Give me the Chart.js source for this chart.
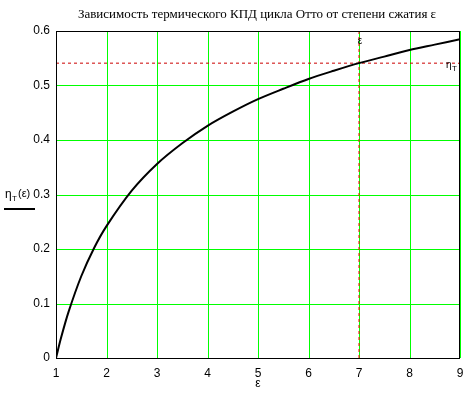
<!DOCTYPE html>
<html><head><meta charset="utf-8">
<script src="https://cdn.jsdelivr.net/npm/chart.js@4/dist/chart.umd.min.js"></script>
<style>html,body{margin:0;padding:0;background:#fff}#c{display:block}</style>
</head><body>
<canvas id="c" width="473" height="398"></canvas>
<script>
const titleText = "Зависимость термического КПД цикла Отто от степени сжатия ε";
const epsValues = [1, 1.1, 1.25, 1.5, 1.75, 2, 2.5, 3, 3.5, 4, 4.5, 5, 5.5, 6, 6.5, 7, 7.5, 8, 8.5, 9];
const etaValues = [0, 0.037, 0.085, 0.150, 0.201, 0.242, 0.307, 0.356, 0.394, 0.426, 0.452, 0.475, 0.494, 0.512, 0.527, 0.541, 0.553, 0.565, 0.575, 0.585];
const epsMarker = 7;
const etaMarker = 0.541;
const xTicks = [1, 2, 3, 4, 5, 6, 7, 8, 9];
const yTicks = [0, 0.1, 0.2, 0.3, 0.4, 0.5, 0.6];

const curve = epsValues.map((e, i) => ({x: e, y: etaValues[i]}));

const gridPlugin = {
  id: 'gridPlugin',
  beforeDatasetsDraw(chart) {
    const ctx = chart.ctx, a = chart.chartArea;
    const xs = chart.scales.x, ys = chart.scales.y;
    ctx.save();
    ctx.strokeStyle = '#00ff00'; ctx.lineWidth = 1;
    ctx.beginPath();
    xTicks.forEach(v => {
      const px = Math.round(xs.getPixelForValue(v)) + 0.5;
      ctx.moveTo(px, a.top); ctx.lineTo(px, a.bottom);
    });
    yTicks.forEach(v => {
      const py = Math.round(ys.getPixelForValue(v)) + 0.5;
      ctx.moveTo(a.left, py); ctx.lineTo(a.right, py);
    });
    ctx.stroke();
    ctx.restore();
  }
};

const deco = {
  id: 'deco',
  afterDraw(chart) {
    const ctx = chart.ctx, a = chart.chartArea;
    const xs = chart.scales.x, ys = chart.scales.y;
    ctx.save();
    ctx.strokeStyle = '#000'; ctx.lineWidth = 1;
    const l = Math.round(a.left) + 0.5, t = Math.round(a.top) + 0.5;
    const r = Math.round(a.right) - 0.5, b = Math.round(a.bottom) + 0.5;
    ctx.strokeRect(l, t, r - l, b - t);
    ctx.fillStyle = '#000';
    ctx.textAlign = 'center'; ctx.textBaseline = 'middle';
    ctx.font = '13px "Liberation Serif", "Times New Roman", serif';
    ctx.fillText(titleText, 257, 15);
    ctx.font = '12px "Liberation Sans", Arial, sans-serif';
    ctx.fillText('ε', 258, 384);
    ctx.font = '10px "Liberation Sans", Arial, sans-serif';
    ctx.fillText('ε', xs.getPixelForValue(epsMarker) + 1, a.top + 10);
    ctx.textAlign = 'left';
    ctx.fillText('η', 446, ys.getPixelForValue(etaMarker) + 2);
    ctx.font = '8px "Liberation Sans", Arial, sans-serif';
    ctx.fillText('T', 452, ys.getPixelForValue(etaMarker) + 6);
    ctx.font = '12px "Liberation Sans", Arial, sans-serif';
    ctx.fillText('η', 5, 195);
    ctx.font = '8px "Liberation Sans", Arial, sans-serif';
    ctx.fillText('T', 12, 199);
    ctx.font = '11px "Liberation Sans", Arial, sans-serif';
    ctx.fillText('(ε)', 18, 194);
    ctx.lineWidth = 2;
    ctx.beginPath(); ctx.moveTo(4, 209); ctx.lineTo(35, 209); ctx.stroke();
    ctx.restore();
  }
};

new Chart(document.getElementById('c'), {
  type: 'line',
  data: {
    datasets: [
      {data: curve, borderColor: '#000', borderWidth: 2, pointRadius: 0, tension: 0.3, order: 1},
      {data: [{x: xTicks[0], y: etaMarker}, {x: xTicks[xTicks.length - 1], y: etaMarker}], borderColor: '#cc0000', borderWidth: 1, borderDash: [3, 3], pointRadius: 0, order: 2},
      {data: [{x: epsMarker, y: yTicks[0]}, {x: epsMarker, y: yTicks[yTicks.length - 1]}], borderColor: '#ff0000', borderWidth: 1, borderDash: [3, 3], pointRadius: 0, order: 2}
    ]
  },
  options: {
    responsive: false, animation: false,
    layout: {padding: {top: 31, right: 13, left: 0, bottom: 0}},
    plugins: {legend: {display: false}, tooltip: {enabled: false}, title: {display: false}},
    scales: {
      x: {
        type: 'linear', min: 1, max: 9,
        afterFit(s) { s.height = 40; },
        afterBuildTicks(s) { s.ticks = xTicks.map(v => ({value: v})); },
        grid: {display: false, drawTicks: false},
        border: {display: false},
        ticks: {color: '#000', padding: 8, font: {size: 12, family: '"Liberation Sans", Arial, sans-serif'}, maxRotation: 0}
      },
      y: {
        type: 'linear', min: 0, max: 0.6,
        afterFit(s) { s.width = 56; },
        afterBuildTicks(s) { s.ticks = yTicks.map(v => ({value: v})); },
        grid: {display: false, drawTicks: false},
        border: {display: false},
        ticks: {color: '#000', padding: 6, font: {size: 12, family: '"Liberation Sans", Arial, sans-serif'}, callback: v => String(+v.toFixed(1))}
      }
    }
  },
  plugins: [gridPlugin, deco]
});
</script>
</body></html>
